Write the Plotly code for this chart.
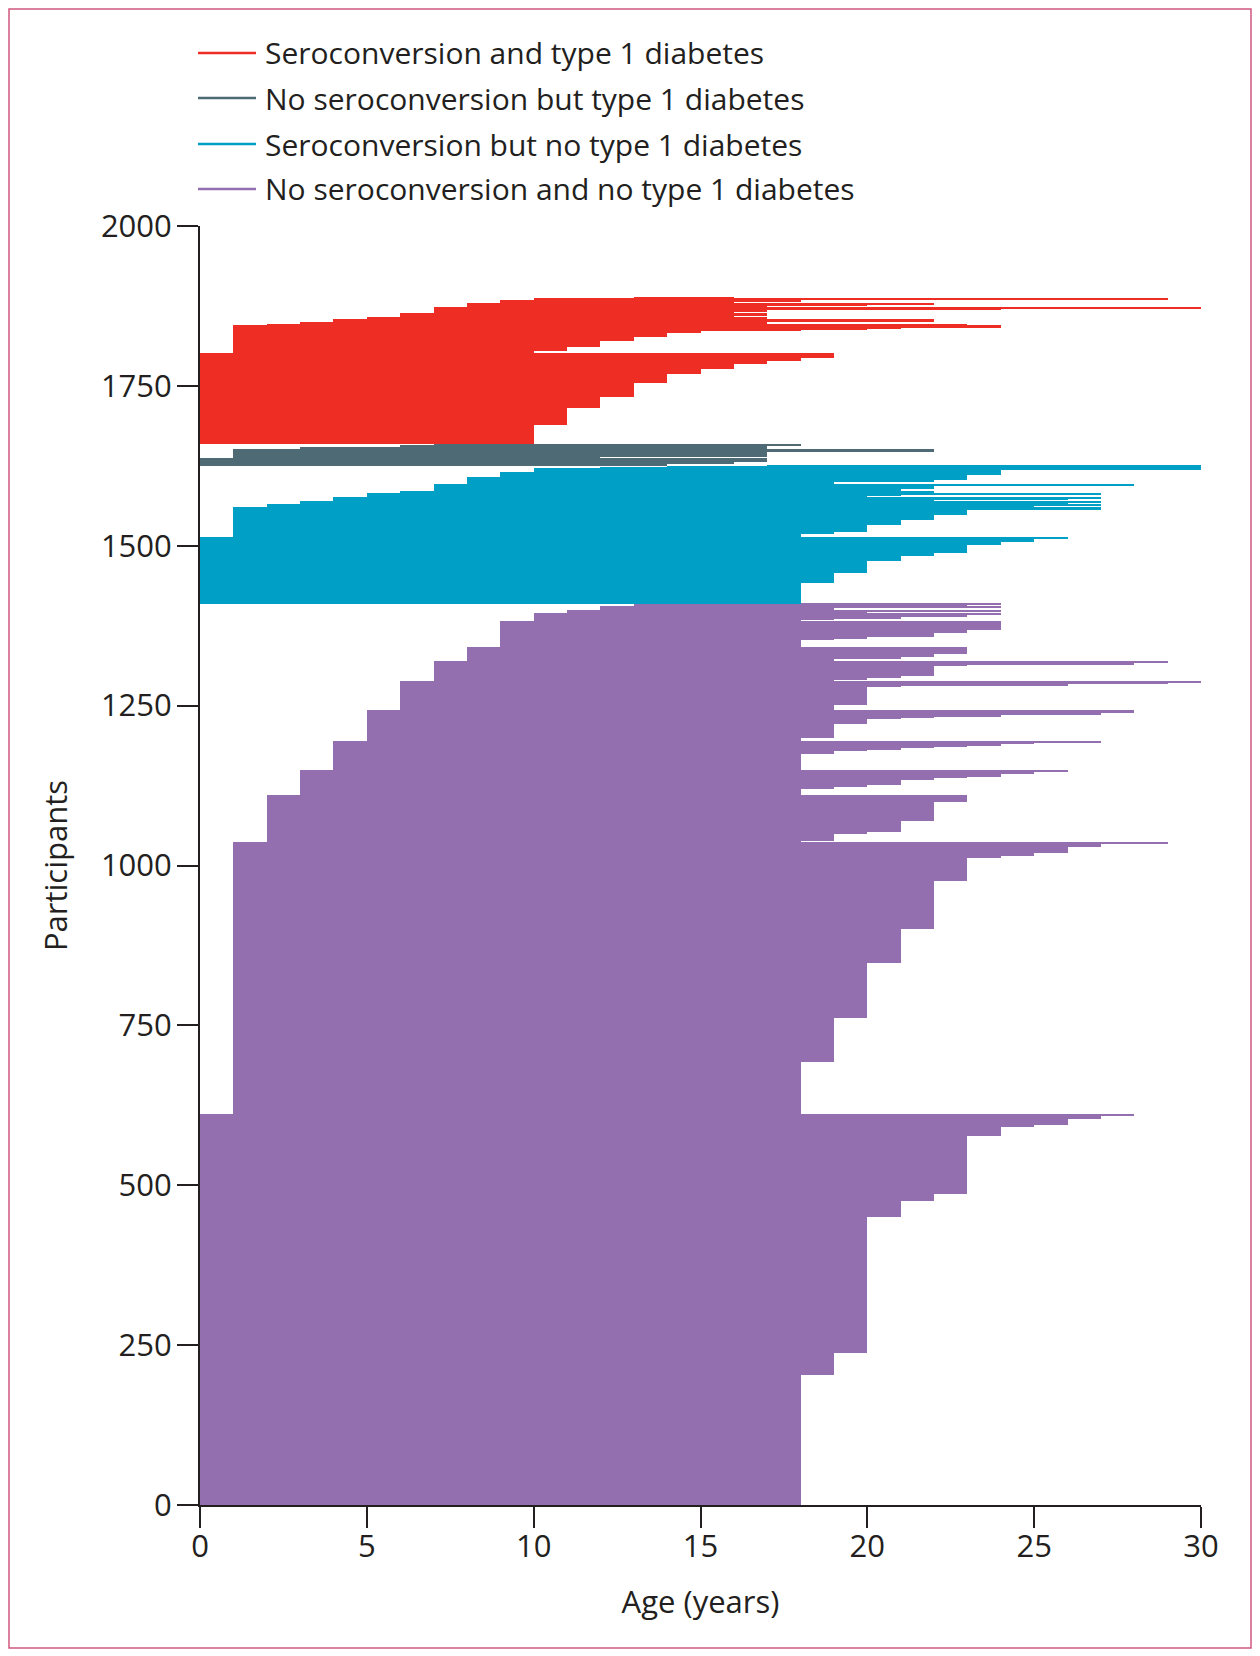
import plotly.graph_objects as go

# ---------------- data ----------------
groups = ["Seroconversion and type 1 diabetes",
          "No seroconversion but type 1 diabetes",
          "Seroconversion but no type 1 diabetes",
          "No seroconversion and no type 1 diabetes"]
group_colors = ["#EE2D24", "#4E6A75", "#009FC5", "#946FAF"]

# each block = n participants followed from age `start` to age `end`
purple_start = [0, 0, 0, 0, 0, 0, 0, 0, 0, 0, 0,
                1, 1, 1, 1, 1, 1, 1, 1, 1, 1, 1,
                2, 2, 2, 2, 2, 2,
                3, 3, 3, 3, 3, 3, 3, 3, 3,
                4, 4, 4, 4, 4, 4, 4, 4, 4,
                5, 5, 5, 5, 5, 5, 5, 5,
                6, 6, 6, 6, 6, 6,
                7, 7, 7, 7, 7, 7, 7,
                8, 8, 8, 8, 8,
                9, 9, 9, 9, 9, 9,
                10, 10, 10, 10, 10,
                11, 11,
                12, 12, 12,
                13, 13]
purple_end = [18, 19, 20, 21, 22, 23, 24, 25, 26, 27, 28,
              18, 19, 20, 21, 22, 23, 24, 25, 26, 27, 29,
              18, 19, 20, 21, 22, 23,
              18, 19, 20, 21, 22, 23, 24, 25, 26,
              18, 19, 20, 21, 22, 23, 24, 25, 27,
              18, 19, 20, 21, 22, 24, 27, 28,
              19, 20, 21, 26, 29, 30,
              19, 20, 21, 22, 23, 28, 29,
              19, 20, 21, 22, 23,
              18, 19, 20, 22, 23, 24,
              18, 19, 21, 23, 24,
              20, 24,
              18, 19, 24,
              23, 24]
purple_n = [203, 34, 214, 25, 11, 90, 14, 4, 10, 3, 4,
            81, 69, 85, 54, 74, 36, 4, 4, 11, 3, 4,
            2, 11, 3, 17, 29, 12,
            8, 4, 3, 7, 4, 2, 4, 4, 3,
            24, 6, 2, 2, 2, 2, 2, 2, 3,
            4, 23, 8, 2, 1, 2, 5, 3,
            8, 29, 2, 2, 2, 3,
            2, 2, 4, 15, 2, 3, 3,
            3, 1, 2, 4, 11,
            12, 2, 3, 5, 6, 14,
            2, 2, 3, 2, 3,
            2, 2,
            2, 1, 4,
            2, 1]

cyan_start = [0, 0, 0, 0, 0, 0, 0, 0, 0,
              1, 1, 1, 1, 1, 1, 1,
              2, 2, 3, 3, 4, 4, 4, 5, 5, 5, 6, 6,
              7, 7, 7, 8, 8, 8, 9, 9, 10, 10, 12, 14, 17]
cyan_end = [18, 19, 20, 21, 22, 23, 24, 25, 26,
            18, 19, 20, 21, 22, 23, 27,
            25, 27, 26, 27, 22, 26, 27, 20, 21, 27, 21, 22,
            21, 22, 28, 19, 22, 23, 23, 24, 24, 30, 30, 30, 30]
cyan_n = [32, 16, 19, 8, 4, 13, 5, 4, 4,
          5, 2, 12, 8, 7, 8, 4,
          3, 2, 2, 3, 2, 2, 1, 3, 2, 2, 1, 2,
          3, 5, 4, 3, 3, 4, 5, 3, 4, 2, 2, 1, 1]

grey_start = [0, 0, 0, 1, 1, 1, 3, 3, 6, 7]
grey_end = [14, 16, 17, 12, 17, 22, 13, 17, 17, 18]
grey_n = [3, 3, 6, 2, 7, 5, 1, 2, 3, 2]

red_start = [0, 0, 0, 0, 0, 0, 0, 0, 0, 0,
             1, 1, 1, 1, 1, 1, 1, 1, 1, 1,
             2, 3, 3, 4, 4, 5, 5, 6, 6,
             7, 7, 7, 7, 8, 8, 8, 9, 9, 10, 10, 13]
red_end = [10, 11, 12, 13, 14, 15, 16, 17, 18, 19,
           10, 11, 12, 13, 14, 15, 18, 20, 21, 24,
           23, 14, 17, 15, 22, 16, 17, 16, 17,
           16, 17, 24, 30, 17, 20, 22, 16, 18, 16, 29, 16]
red_n = [30, 26, 18, 22, 13, 8, 8, 5, 5, 7,
         3, 7, 9, 7, 6, 3, 2, 2, 2, 3,
         2, 1, 1, 2, 3, 1, 2, 3, 4,
         2, 3, 2, 3, 2, 1, 2, 3, 2, 1, 2, 2]

x_ticks = [0, 5, 10, 15, 20, 25, 30]
y_ticks = [0, 250, 500, 750, 1000, 1250, 1500, 1750, 2000]

# stacking order from the x axis upwards
stack = [(3, purple_start, purple_end, purple_n),
         (2, cyan_start, cyan_end, cyan_n),
         (1, grey_start, grey_end, grey_n),
         (0, red_start, red_end, red_n)]

INK = "#231F20"
FONT = "Open Sans"

fig = go.Figure()
offset = 0
for gi, s, e, n in stack:
    centers, lengths = [], []
    for a, b, k in zip(s, e, n):
        centers.append(offset + k / 2)
        lengths.append(b - a)
        offset += k
    fig.add_trace(go.Bar(
        orientation="h", y=centers, x=lengths, base=s, width=n,
        marker=dict(color=group_colors[gi], line=dict(width=0)),
        name=groups[gi], showlegend=False, hoverinfo="skip"))

# ---------------- geometry (page has an 8px body margin) ----------------
W, H = 1252, 1648
ML, MR, MT, MB = 192, 59, 218, 151
pw, ph = W - ML - MR, H - MT - MB


def px(x):
    return (x - ML) / pw


def py(y):
    return (H - MB - y) / ph


shapes = []
annotations = []
leg_rows = [45, 90, 136, 181]
for i, g in enumerate(groups):
    yy = py(leg_rows[i])
    shapes.append(dict(type="line", xref="paper", yref="paper",
                       x0=px(190), x1=px(248), y0=yy, y1=yy,
                       line=dict(color=group_colors[i], width=2.5)))
    annotations.append(dict(text=g, xref="paper", yref="paper",
                            x=px(255), y=yy, xanchor="left", yanchor="middle",
                            showarrow=False,
                            font=dict(family=FONT, size=30, color=INK)))

# outer frame
shapes.append(dict(type="rect", xref="paper", yref="paper",
                   x0=px(1), x1=px(1243), y0=py(1640), y1=py(1),
                   line=dict(color="#D0587E", width=1.5), layer="below"))

fig.update_layout(
    width=W, height=H,
    margin=dict(l=ML, r=MR, t=MT, b=MB, autoexpand=False),
    paper_bgcolor="white", plot_bgcolor="white",
    barmode="overlay", bargap=0, showlegend=False,
    font=dict(family=FONT, color=INK),
    shapes=shapes, annotations=annotations,
    xaxis=dict(range=[0, 30], tickvals=x_ticks, ticks="outside", ticklen=21,
               tickwidth=2, tickcolor=INK, showline=True, linewidth=2,
               linecolor=INK, showgrid=False, zeroline=False,
               tickfont=dict(family=FONT, size=31, color=INK),
               ticklabelstandoff=-8, automargin=False,
               title=dict(text="Age (years)", standoff=26,
                          font=dict(family=FONT, size=31, color=INK))),
    yaxis=dict(range=[0, 2000], tickvals=y_ticks, ticks="outside", ticklen=21,
               tickwidth=2, tickcolor=INK, showline=True, linewidth=2,
               linecolor=INK, showgrid=False, zeroline=False,
               tickfont=dict(family=FONT, size=31, color=INK),
               ticklabelstandoff=-1, automargin=False,
               title=dict(text="Participants", standoff=24,
                          font=dict(family=FONT, size=31, color=INK))),
)

fig.write_html("out.html")
